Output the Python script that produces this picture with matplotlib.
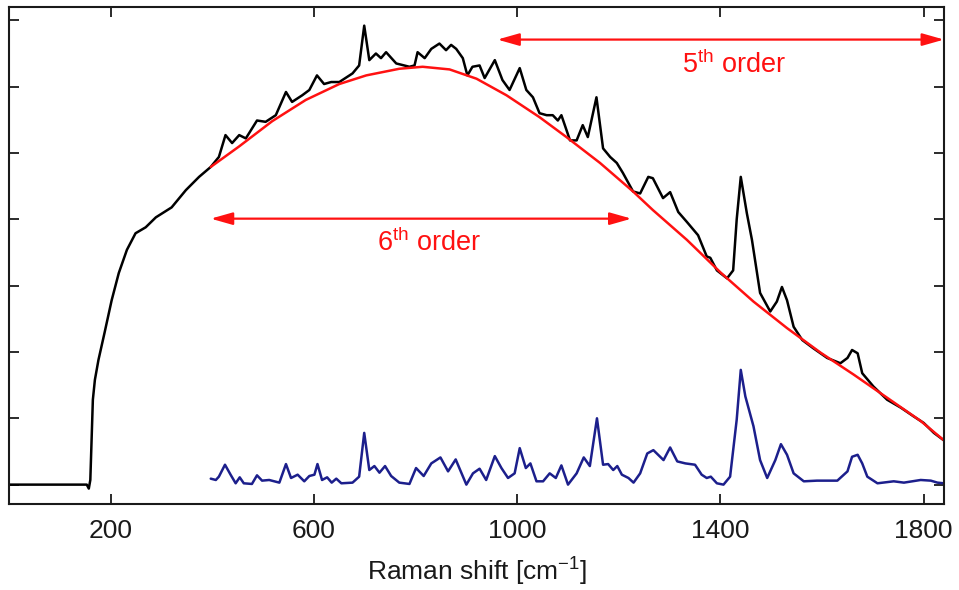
import matplotlib
matplotlib.use("Agg")
import matplotlib.pyplot as plt

plt.rcParams['font.family'] = ['Liberation Sans', 'DejaVu Sans']
plt.rcParams['mathtext.fontset'] = 'custom'
plt.rcParams['mathtext.rm'] = 'Liberation Sans'
plt.rcParams['mathtext.it'] = 'Liberation Sans:italic'
plt.rcParams['mathtext.bf'] = 'Liberation Sans:bold'

# measured Raman spectrum (black)
black_x = [0, 153, 157, 160, 165, 169, 176, 188, 202, 216, 232, 249, 269, 289, 320, 348, 374, 397, 413, 426,
           439, 453, 466, 488, 505, 525, 545, 557, 577, 591, 606, 620, 634, 650, 676, 689, 699, 709, 722, 732,
           742, 762, 788, 798, 804, 818, 831, 847, 860, 870, 880, 893, 902, 912, 926, 936, 956, 971, 985, 1005,
           1018, 1031, 1044, 1058, 1070, 1080, 1087, 1104, 1117, 1129, 1139, 1156, 1169, 1183, 1196, 1208, 1228,
           1242, 1258, 1267, 1287, 1301, 1317, 1334, 1356, 1373, 1380, 1393, 1413, 1425, 1432, 1440, 1452, 1462,
           1478, 1498, 1511, 1521, 1531, 1544, 1561, 1582, 1610, 1636, 1650, 1659, 1670, 1679, 1701, 1728, 1755,
           1780, 1800, 1820, 1841]
black_y = [0.0, 0.0, -0.06, 0.07, 1.28, 1.58, 1.88, 2.29, 2.78, 3.19, 3.54, 3.79, 3.88, 4.03, 4.18, 4.44, 4.64,
           4.79, 4.94, 5.27, 5.15, 5.27, 5.22, 5.49, 5.47, 5.57, 5.92, 5.77, 5.87, 5.95, 6.17, 6.04, 6.07, 6.07,
           6.20, 6.32, 6.92, 6.40, 6.50, 6.43, 6.52, 6.35, 6.30, 6.32, 6.52, 6.43, 6.57, 6.65, 6.55, 6.63, 6.57,
           6.43, 6.17, 6.30, 6.32, 6.13, 6.40, 6.10, 5.95, 6.28, 5.95, 5.84, 5.60, 5.57, 5.57, 5.49, 5.57, 5.19,
           5.19, 5.42, 5.24, 5.84, 5.07, 4.94, 4.85, 4.70, 4.42, 4.39, 4.64, 4.62, 4.32, 4.41, 4.11, 3.96, 3.76,
           3.44, 3.42, 3.23, 3.11, 3.23, 4.00, 4.64, 4.09, 3.69, 2.89, 2.61, 2.76, 2.98, 2.78, 2.38, 2.18, 2.06,
           1.91, 1.83, 1.91, 2.03, 1.98, 1.68, 1.48, 1.28, 1.16, 1.03, 0.93, 0.78, 0.66]

# polynomial background (red)
red_x = [397, 453, 518, 584, 650, 703, 768, 814, 867, 920, 979, 1044, 1097, 1163, 1228, 1267, 1334, 1400,
         1465, 1531, 1597, 1662, 1728, 1794, 1841]
red_y = [4.79, 5.10, 5.48, 5.80, 6.04, 6.17, 6.27, 6.30, 6.26, 6.12, 5.87, 5.54, 5.24, 4.85, 4.42, 4.14, 3.69,
         3.20, 2.76, 2.36, 1.99, 1.66, 1.31, 0.96, 0.66]

# background-subtracted spectrum (blue)
blue_x = [397, 407, 413, 425, 436, 446, 454, 462, 478, 488, 498, 512, 532, 545, 555, 568, 581, 591, 601, 607,
          616, 626, 635, 644, 654, 676, 689, 699, 709, 719, 729, 740, 752, 768, 788, 801, 816, 831, 849, 864,
          879, 900, 913, 926, 939, 956, 969, 982, 995, 1005, 1017, 1026, 1038, 1051, 1064, 1076, 1087, 1100,
          1117, 1131, 1143, 1157, 1169, 1179, 1189, 1197, 1206, 1219, 1229, 1242, 1256, 1268, 1288, 1301, 1315,
          1331, 1350, 1363, 1373, 1381, 1393, 1406, 1419, 1432, 1440, 1449, 1465, 1478, 1492, 1508, 1519, 1531,
          1544, 1564, 1590, 1630, 1650, 1659, 1670, 1679, 1689, 1709, 1741, 1761, 1794, 1814, 1827, 1840]
blue_y = [0.09, 0.07, 0.12, 0.30, 0.15, 0.02, 0.11, 0.02, 0.01, 0.14, 0.06, 0.07, 0.03, 0.31, 0.10, 0.15, 0.05,
          0.13, 0.15, 0.31, 0.07, 0.11, 0.03, 0.09, 0.02, 0.03, 0.12, 0.78, 0.22, 0.28, 0.18, 0.28, 0.13, 0.03,
          0.01, 0.25, 0.13, 0.32, 0.41, 0.20, 0.38, 0.0, 0.17, 0.24, 0.07, 0.43, 0.25, 0.10, 0.17, 0.55, 0.25,
          0.32, 0.05, 0.05, 0.17, 0.10, 0.29, 0.0, 0.17, 0.41, 0.28, 1.00, 0.30, 0.31, 0.22, 0.28, 0.15, 0.10,
          0.03, 0.17, 0.47, 0.52, 0.37, 0.56, 0.35, 0.32, 0.30, 0.15, 0.10, 0.12, 0.02, 0.0, 0.12, 0.98, 1.73,
          1.33, 0.88, 0.37, 0.10, 0.37, 0.61, 0.45, 0.17, 0.05, 0.06, 0.06, 0.20, 0.42, 0.45, 0.32, 0.12, 0.02,
          0.05, 0.03, 0.07, 0.06, 0.03, 0.02]

xticks = [200, 600, 1000, 1400, 1800]
yticks = [0, 1, 2, 3, 4, 5, 6, 7]

# fit ranges shown by the arrows
range6 = [397, 1225]
range5 = [961, 1840]

fig = plt.figure(figsize=(9.59, 5.90), dpi=100)
ax = fig.add_axes([0.0094, 0.146, 0.975, 0.842])

line_kw = dict(lw=1.8, solid_joinstyle='round', solid_capstyle='round')
ax.plot(black_x, black_y, color='black', **line_kw)
ax.plot(red_x, red_y, color='#ff1111', **line_kw)
ax.plot(blue_x, blue_y, color='#1c1f8c', **line_kw)

arrow = dict(arrowstyle='<|-|>,head_length=0.6,head_width=0.17', color='#ff1111', lw=1.6,
             mutation_scale=22, shrinkA=0, shrinkB=0)
ax.annotate('', xy=(range6[0], 4.01), xytext=(range6[1], 4.01), arrowprops=arrow)
ax.annotate('', xy=(range5[0], 6.71), xytext=(range5[1], 6.71), arrowprops=arrow, annotation_clip=False)
ax.text(827, 3.64, r'6$^{\rm th}$ order', color='#ff1111', fontsize=19.5, ha='center', va='center')
ax.text(1427, 6.33, r'5$^{\rm th}$ order', color='#ff1111', fontsize=19.5, ha='center', va='center')

ax.set_xlim(0, 1840)
ax.set_ylim(-0.29, 7.2)
ax.set_xticks(xticks)
ax.set_yticks(yticks)
ax.set_yticklabels([])
ax.tick_params(direction='in', length=7, width=1.3, top=True, right=True, labelsize=19,
               colors='#1a1a1a', pad=11)
for s in ax.spines.values():
    s.set_linewidth(1.5)
    s.set_color('#1a1a1a')
ax.set_xlabel(r'Raman shift [cm$^{-1}$]', fontsize=19, color='#1a1a1a', labelpad=9)

fig.savefig('out.png', dpi=100)
